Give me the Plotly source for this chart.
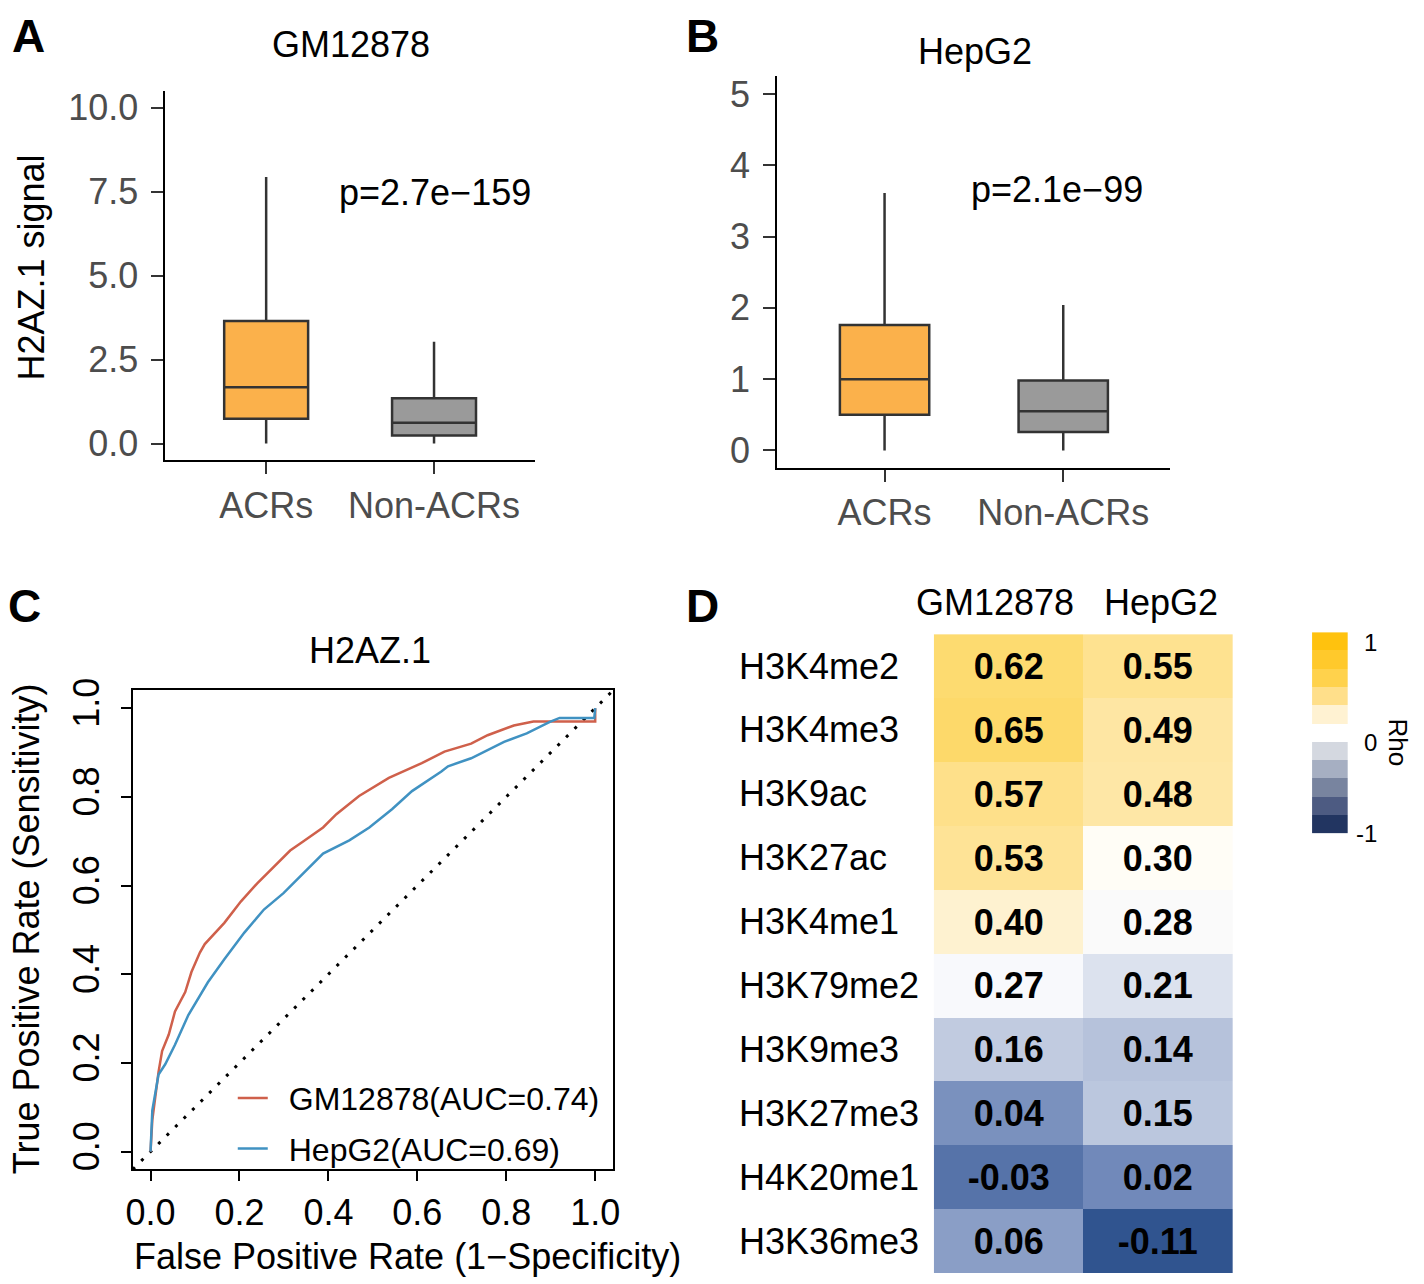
import plotly.graph_objects as go

W, H = 1424, 1284
FONT = "Liberation Sans, Arial, Helvetica, sans-serif"

# ---------------- data ----------------
categories = ["ACRs", "Non-ACRs"]
gm_q1 = [0.74, 0.24]
gm_med = [1.68, 0.62]
gm_q3 = [3.65, 1.35]
gm_lo = [0.0, 0.0]
gm_hi = [7.94, 3.03]

hep_q1 = [0.50, 0.26]
hep_med = [1.00, 0.55]
hep_q3 = [1.76, 0.98]
hep_lo = [0.0, 0.0]
hep_hi = [3.61, 2.04]

p_gm = "p=2.7e\u2212159"
p_hep = "p=2.1e\u221299"

roc_gm_fpr = [0.0, 0.004, 0.018, 0.026, 0.041, 0.055, 0.078, 0.092, 0.111, 0.122, 0.166, 0.203,
              0.24, 0.27, 0.314, 0.344, 0.388, 0.418, 0.469, 0.536, 0.61, 0.661, 0.721, 0.758,
              0.817, 0.861, 1.0, 1.0]
roc_gm_tpr = [0.0, 0.071, 0.18, 0.227, 0.264, 0.316, 0.36, 0.405, 0.449, 0.468, 0.516, 0.564,
              0.605, 0.635, 0.679, 0.70, 0.731, 0.761, 0.802, 0.843, 0.876, 0.902, 0.92, 0.939,
              0.961, 0.97, 0.97, 1.0]
roc_hep_fpr = [0.0, 0.004, 0.018, 0.033, 0.055, 0.085, 0.129, 0.166, 0.211, 0.255, 0.299, 0.336,
               0.388, 0.447, 0.492, 0.543, 0.588, 0.654, 0.669, 0.721, 0.758, 0.795, 0.846,
               0.898, 0.92, 0.998, 1.0]
roc_hep_tpr = [0.0, 0.093, 0.174, 0.197, 0.241, 0.308, 0.382, 0.434, 0.494, 0.546, 0.583, 0.62,
               0.672, 0.702, 0.731, 0.772, 0.813, 0.857, 0.869, 0.887, 0.906, 0.924, 0.943,
               0.969, 0.978, 0.978, 1.0]
roc_names = ["GM12878(AUC=0.74)", "HepG2(AUC=0.69)"]

marks = ["H3K4me2", "H3K4me3", "H3K9ac", "H3K27ac", "H3K4me1",
         "H3K79me2", "H3K9me3", "H3K27me3", "H4K20me1", "H3K36me3"]
cell_lines = ["GM12878", "HepG2"]
rho_gm = [0.62, 0.65, 0.57, 0.53, 0.40, 0.27, 0.16, 0.04, -0.03, 0.06]
rho_hep = [0.55, 0.49, 0.48, 0.30, 0.28, 0.21, 0.14, 0.15, 0.02, -0.11]

legend_bins = [1.0, 0.8, 0.6, 0.4, 0.2, None, -0.2, -0.4, -0.6, -0.8, -1.0]
legend_ticks = ["1", "0", "-1"]

# ---------------- helpers (layout positions, given in page pixels) ----------------
def fx(px):
    return px / W

def fy(py):
    return 1 - py / H

ORANGE = "#FBB14B"
GREY = "#9A9A9A"
EDGE = "#333333"
RED = "#CF604B"
BLUE = "#4092C2"
TICKGREY = "#4D4D4D"

fig = go.Figure()

# ---------------- panels A and B: boxplots ----------------
for ax, (q1, med, q3, lo, hi) in zip(["", "2"], [(gm_q1, gm_med, gm_q3, gm_lo, gm_hi),
                                                  (hep_q1, hep_med, hep_q3, hep_lo, hep_hi)]):
    for i, col in enumerate([ORANGE, GREY]):
        fig.add_trace(go.Box(
            x=[categories[i]], q1=[q1[i]], median=[med[i]], q3=[q3[i]],
            lowerfence=[lo[i]], upperfence=[hi[i]],
            fillcolor=col, line=dict(color=EDGE, width=2.5),
            width=0.5, whiskerwidth=0, boxpoints=False,
            xaxis="x" + ax, yaxis="y" + ax, showlegend=False, hoverinfo="skip"))

box_axis_common = dict(showline=True, linecolor="black", linewidth=2, ticks="outside",
                       ticklen=12, tickwidth=2, tickcolor=EDGE, showgrid=False, zeroline=False,
                       tickfont=dict(family=FONT, size=36, color=TICKGREY))

fig.update_layout(
    xaxis=dict(domain=[fx(160), fx(533)], anchor="y", type="category",
               range=[-0.6, 1.6], ticklabelstandoff=0, **box_axis_common),
    yaxis=dict(domain=[fy(454), fy(80)], anchor="x", range=[-0.5, 10.5],
               tickvals=[0, 2.5, 5, 7.5, 10], tickformat=".1f", ticklabelstandoff=6,
               **box_axis_common),
    xaxis2=dict(domain=[fx(778), fx(1175)], anchor="y2", type="category",
                range=[-0.6, 1.6], ticklabelstandoff=0, **box_axis_common),
    yaxis2=dict(domain=[fy(462), fy(65)], anchor="x2", range=[-0.25, 5.25],
                dtick=1, ticklabelstandoff=6, **box_axis_common),
)

# ---------------- panel C: ROC ----------------
roc_range = [-0.04, 1.04]
fig.add_trace(go.Scatter(x=roc_gm_fpr, y=roc_gm_tpr, mode="lines", name="\u2002" + roc_names[0],
                         line=dict(color=RED, width=2.5, shape="linear"),
                         xaxis="x3", yaxis="y3", legendgroup="g1", hoverinfo="skip"))
fig.add_trace(go.Scatter(x=roc_hep_fpr, y=roc_hep_tpr, mode="lines", name="\u2002" + roc_names[1],
                         line=dict(color=BLUE, width=2.5, shape="linear"),
                         xaxis="x3", yaxis="y3", legendgroup="g2", hoverinfo="skip"))
fig.add_shape(type="line", xref="x3", yref="y3",
              x0=roc_range[0], y0=roc_range[0], x1=roc_range[1], y1=roc_range[1],
              line=dict(color="black", width=3, dash="3px,9px"), layer="below")

roc_axis_common = dict(showline=True, linecolor="black", linewidth=2, mirror=True,
                       ticks="outside", ticklen=10, tickwidth=2, tickcolor="black",
                       showgrid=False, zeroline=False, range=roc_range, dtick=0.2,
                       tick0=0, tickformat=".1f",
                       tickfont=dict(family=FONT, size=36, color="black"))
fig.update_layout(
    xaxis3=dict(domain=[fx(127), fx(612)], anchor="y3", ticklabelstandoff=0, **roc_axis_common),
    yaxis3=dict(domain=[fy(1172), fy(687)], anchor="x3", tickangle=-90,
                ticklabelstandoff=7, **roc_axis_common),
    legend=dict(x=fx(228), y=fy(1072), xanchor="left", yanchor="top",
                font=dict(family=FONT, size=32, color="black"),
                bgcolor="rgba(0,0,0,0)", borderwidth=0, itemwidth=30,
                tracegroupgap=6, traceorder="grouped"),
)

# ---------------- panel D: heatmap ----------------
z = [[g, h] for g, h in zip(rho_gm, rho_hep)]
txt = [[f"{g:.2f}", f"{h:.2f}"] for g, h in zip(rho_gm, rho_hep)]
zmin, zmax = -0.11, 0.65
stops_vals = [-0.11, -0.03, 0.02, 0.04, 0.06, 0.14, 0.21, 0.27, 0.30, 0.40, 0.48, 0.53, 0.57, 0.62, 0.65]
stops_cols = ["#30548F", "#5673A9", "#7189BA", "#7A91BE", "#8A9EC6", "#B6C2DB", "#DCE2EE",
              "#F8F9FC", "#FFFDF6", "#FEF2D0", "#FEE7A6", "#FEE396", "#FEE08A", "#FDDB70", "#FDD96A"]
cscale = [[(v - zmin) / (zmax - zmin), c] for v, c in zip(stops_vals, stops_cols)]
fig.add_trace(go.Heatmap(z=z, x=cell_lines, y=marks, text=txt, texttemplate="%{text}",
                         textfont=dict(family=FONT, size=36, color="black", weight="bold"),
                         colorscale=cscale, zmin=zmin, zmax=zmax, showscale=False,
                         xaxis="x4", yaxis="y4", hoverinfo="skip"))

# legend bar
leg_scale = [[0.0, "#223561"], [0.1, "#4D5B82"], [0.2, "#78849F"], [0.3, "#A6AFC2"],
             [0.4, "#D4D8E0"], [0.6, "#FFF2D2"], [0.7, "#FFDF8A"], [0.8, "#FFD24C"],
             [0.9, "#FFC92C"], [1.0, "#FFC20E"]]
fig.add_trace(go.Heatmap(z=[[v] for v in legend_bins], x=["Rho"],
                         y=[str(i) for i in range(len(legend_bins))],
                         colorscale=leg_scale, zmin=-1, zmax=1, showscale=False,
                         xaxis="x5", yaxis="y5", hoverinfo="skip"))

hidden = dict(showline=False, showgrid=False, zeroline=False, showticklabels=False, ticks="")
fig.update_layout(
    xaxis4=dict(domain=[fx(936), fx(1238)], anchor="y4", **hidden),
    yaxis4=dict(domain=[fy(1277), fy(630)], anchor="x4", autorange="reversed", **hidden),
    xaxis5=dict(domain=[fx(1318), fx(1354)], anchor="y5", **hidden),
    yaxis5=dict(domain=[fy(832), fy(628)], anchor="x5", autorange="reversed", **hidden),
)

# ---------------- annotations ----------------
ann = []

def text(x, y, s, size=36, bold=False, color="black", xanchor="center", angle=0, **kw):
    d = dict(x=x, y=y, text=("<b>%s</b>" % s) if bold else s, showarrow=False,
             font=dict(family=FONT, size=size, color=color), xanchor=xanchor,
             yanchor="middle", textangle=angle)
    d.update(kw)
    if "xref" not in d:
        d["xref"] = "paper"
    if "yref" not in d:
        d["yref"] = "paper"
    ann.append(d)

# panel letters
text(fx(22), fy(24), "A", size=46, bold=True)
text(fx(702), fy(24), "B", size=46, bold=True)
text(fx(18), fy(601), "C", size=46, bold=True)
text(fx(702), fy(601), "D", size=46, bold=True)

# panel titles
text(fx(347), fy(33), "GM12878", size=36)
text(fx(978), fy(40), "HepG2", size=36)
text(fx(367), fy(647), "H2AZ.1", size=36)

# p-values
text(fx(432), fy(183), p_gm, size=36)
text(fx(1060), fy(180), p_hep, size=36)

# axis titles
text(fx(25), fy(259), "H2AZ.1 signal", size=36, angle=-90)
text(fx(20), fy(928), "True Positive Rate (Sensitivity)", size=36, angle=-90)
text(fx(404), fy(1260), "False Positive Rate (1\u2212Specificity)", size=36)

# heatmap headers and row labels
text(fx(998), fy(598), cell_lines[0], size=36)
text(fx(1165), fy(598), cell_lines[1], size=36)
for m in marks:
    text(fx(737), m, m, size=36, xanchor="left", yref="y4")

# legend labels
text(fx(1368), fy(638), legend_ticks[0], size=24, xanchor="left")
text(fx(1368), fy(740), legend_ticks[1], size=24, xanchor="left")
text(fx(1360), fy(832), legend_ticks[2], size=24, xanchor="left")
text(fx(1405), fy(740), "Rho", size=26, angle=90)

fig.update_layout(
    width=W, height=H, margin=dict(l=0, r=0, t=0, b=0),
    paper_bgcolor="white", plot_bgcolor="white",
    font=dict(family=FONT, color="black"),
    annotations=ann, showlegend=True,
)

fig.write_html("out.html", config={"displayModeBar": False},
               post_script="document.body.style.margin='0';document.body.style.overflow='hidden';")
